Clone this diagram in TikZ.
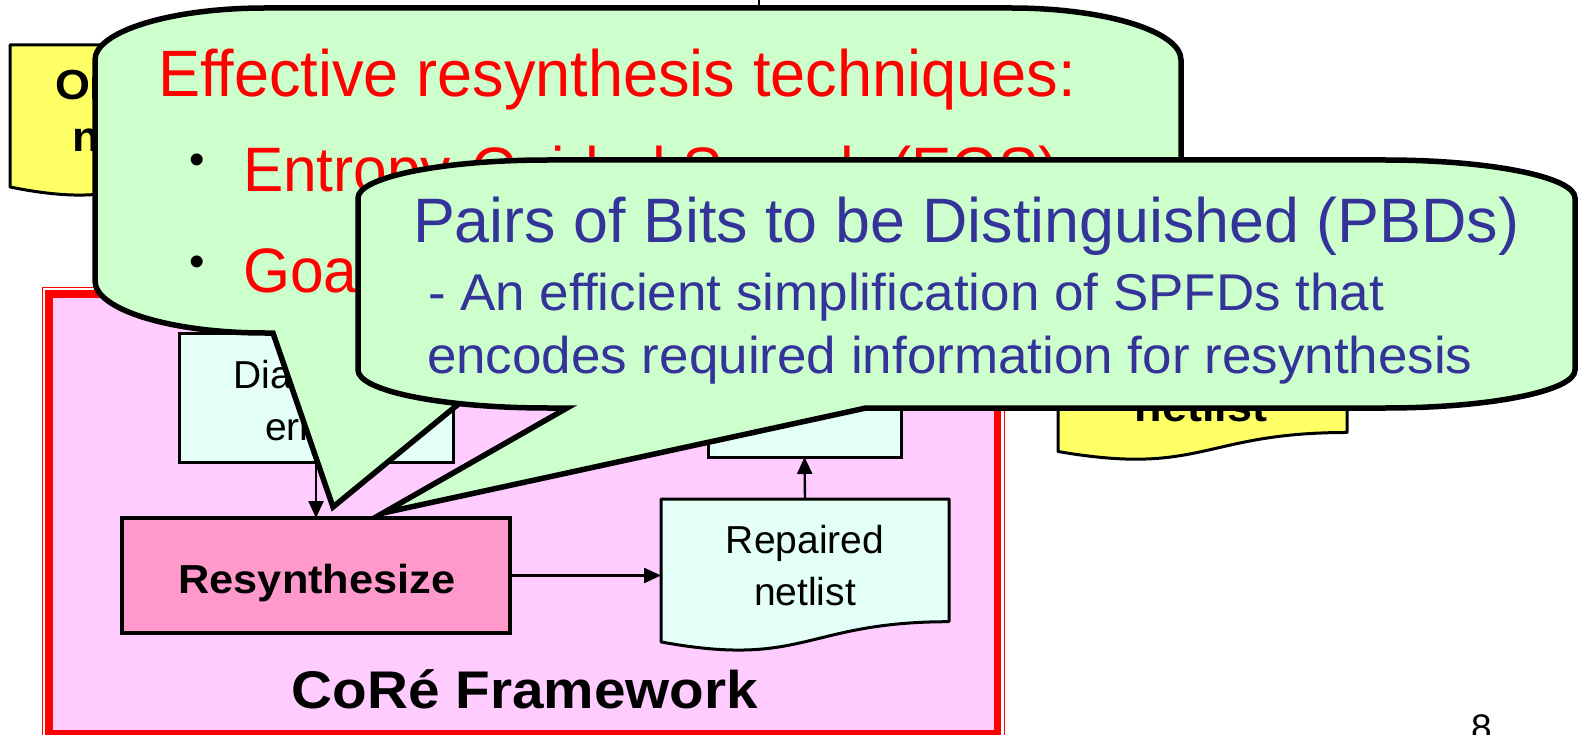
\documentclass[tikz,border=0pt]{standalone}
\usepackage{fontspec}
\setmainfont{Liberation Sans}
\newfontfamily\widesans[FakeStretch=1.07]{Liberation Sans}
\newfontfamily\narrowsans[FakeStretch=0.962]{Liberation Sans}
\newfontfamily\bodysans[FakeStretch=1.025]{Liberation Sans}
\usetikzlibrary{arrows.meta,calc}

\definecolor{framepink}{HTML}{FFCCFF}
\definecolor{resynpink}{HTML}{FF99CC}
\definecolor{mintbox}{HTML}{E3FFF7}
\definecolor{notey}{HTML}{FFFF66}
\definecolor{calloutgreen}{HTML}{CCFFCC}
\definecolor{pbdblue}{HTML}{333399}

\newcommand\fsz[1]{\fontsize{#1}{#1}\selectfont}
% outline of a flow-chart "document" shape around a placeholder node
\newcommand\docoutline[2]{%
  \draw[#2] (#1.north west) -- (#1.north east)
    -- ($(#1.north east)!0.802!(#1.south east)$)
    .. controls ($(#1.north)!0.802!(#1.south)$) and ($(#1.north)!1.1075!(#1.south)$)
    .. ($(#1.north west)!0.934!(#1.south west)$) -- cycle;}

\tikzset{
  holder/.style={draw=none,inner sep=0pt,outer sep=0pt},
  stepbox/.style={draw=black,line width=3pt,fill=mintbox,inner sep=0pt,outer sep=0pt},
  resynbox/.style={draw=black,line width=3.2pt,fill=resynpink,inner sep=0pt,outer sep=0pt},
  docline/.style={draw=black,line width=3pt,line join=round},
  flow/.style={draw=black,line width=2.4pt,-{Triangle[length=17pt,width=15pt]}},
  txt/.style={inner sep=0pt,outer sep=0pt,anchor=base},
  txtw/.style={inner sep=0pt,outer sep=0pt,anchor=base west},
  callout/.style={draw=black,line width=5.5pt,line join=miter,fill=calloutgreen},
}

\begin{document}
\begin{tikzpicture}[x=1pt,y=-1pt]
\useasboundingbox (0,0) rectangle (1579,735);

% ---- CoRe framework frame (thin-thick red border) ----
\fill[framepink] (49,294) rectangle (997.5,733.5);
\draw[red,line width=7.5pt] (49,294) rectangle (997.5,733.5);
\draw[red,line width=1.5pt] (42.5,287.5) rectangle (1004.5,741);

% ---- flow boxes ----
\node[stepbox,minimum width=193pt,minimum height=127pt] (ver) at (804.5,393.5) {};
\node[stepbox,minimum width=274pt,minimum height=129pt] (diag) at (316,397.5) {};
\node[resynbox,minimum width=388pt,minimum height=115pt] (resyn) at (316,575.5) {};
\node[holder,minimum width=288pt,minimum height=153pt] (rep) at (805,575.5) {};
\docoutline{rep}{docline,fill=mintbox}

\node[txt] (diagA) at (316,388) {\fsz{39}Diagnose};
\node[txt] (diagB) at (316,440) {\fsz{39}errors};
\node[txt] (resynT) at (317,593) {\fsz{40.5}\widesans\bfseries Resynthesize};
\node[txt] (repA) at (805,553) {\fsz{39}Repaired};
\node[txt] (repB) at (805,605) {\fsz{39}netlist};

\draw[flow] (diag.south) -- (resyn.north);
\draw[flow] (resyn.east) -- (rep.west);
\draw[flow] (rep.north) -- (ver.south);

% ---- netlist notes ----
\node[holder,minimum width=258pt,minimum height=152pt] (orig) at (139,121) {};
\docoutline{orig}{docline,fill=notey}
\node[txtw] (origA) at (55,100) {\fsz{42}\widesans\bfseries Original};
\node[txtw] (origB) at (72,152) {\fsz{42}\widesans\bfseries netlist};

\node[holder,minimum width=289pt,minimum height=144pt] (fixed) at (1202.5,389) {};
\docoutline{fixed}{docline,fill=notey}
\node[txt] (fixedB) at (1201,421) {\fsz{42}\widesans\bfseries netlist};

% connector stub coming from above
\coordinate (topin) at (759,-20);
\coordinate (topend) at (759,12);
\draw[line width=2.4pt] (topin) -- (topend);

% ---- frame caption and page number ----
\node[txt] (caption) at (525,708) {\fsz{53}\widesans\bfseries CoRé Framework};
\node[txtw] (pageno) at (1471,740) {\fsz{37}8};

% ---- callout: resynthesis techniques ----
\path[callout] (95,60) .. controls (95,31.3) and (171.2,8) .. (265,8)
  -- (1011,8) .. controls (1104.8,8) and (1181,31.3) .. (1181,60)
  -- (1181,281) .. controls (1181,309.7) and (1104.8,333) .. (1011,333)
  -- (545,333) -- (333,507) -- (273,333) -- (265,333)
  .. controls (171.2,333) and (95,309.7) .. (95,281) -- cycle;
\node[txtw,text=red] (techT) at (158,97) {\fsz{65.6}\narrowsans Effective resynthesis techniques:};
\node[inner sep=0pt] (bulA) at (197,164) {\fsz{44}•};
\node[txtw,text=red] (egs) at (243,192) {\fsz{62.8}\narrowsans Entropy-Guided Search (EGS)};
\node[inner sep=0pt] (bulB) at (197,266) {\fsz{44}•};
\node[txtw,text=red] (gds) at (243,292) {\fsz{62.8}\narrowsans Goal-Directed Search (GDS)};

% ---- callout: PBDs ----
\path[callout] (358,198) .. controls (358,177) and (443.1,160) .. (548,160)
  -- (1385,160) .. controls (1489.9,160) and (1575,177) .. (1575,198)
  -- (1575,370) .. controls (1575,391) and (1489.9,408) .. (1385,408)
  -- (866,408) -- (383,513) -- (567,408) -- (548,408)
  .. controls (443.1,408) and (358,391) .. (358,370) -- cycle;
\node[txtw,text=pbdblue] (pbdT) at (413,243) {\fsz{62.8}Pairs of Bits to be Distinguished (PBDs)};
\node[txtw,text=pbdblue] (pbdA) at (428,310) {\fsz{51.7}\bodysans - An efficient simplification of SPFDs that};
\node[txtw,text=pbdblue] (pbdB) at (427,373) {\fsz{51.7}\bodysans encodes required information for resynthesis};
\end{tikzpicture}
\end{document}
